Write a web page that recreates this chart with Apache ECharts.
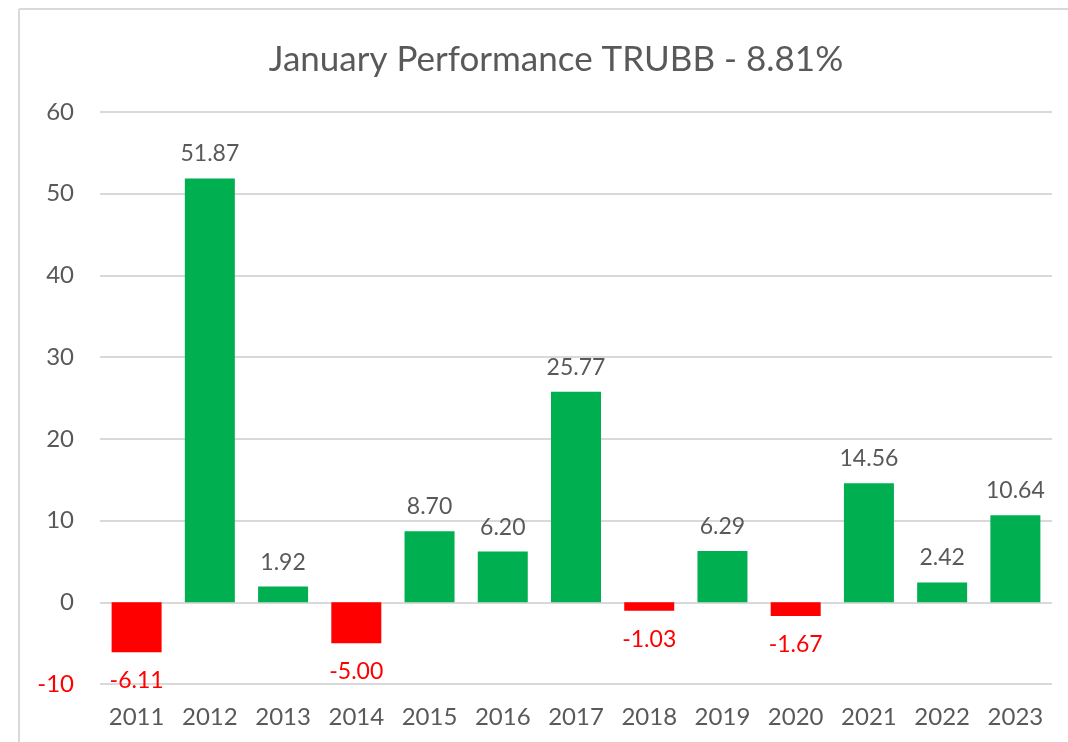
<!DOCTYPE html>
<html><head><meta charset="utf-8">
<script src="https://cdn.jsdelivr.net/npm/echarts@6/dist/echarts.min.js"></script>
<style>html,body{margin:0;padding:0;background:#fff}#c{width:1068px;height:742px}</style>
</head><body><div id="c"></div>
<script>
const titleText = "January Performance TRUBB - 8.81%";
const years = ["2011","2012","2013","2014","2015","2016","2017","2018","2019","2020","2021","2022","2023"];
const values = [-6.11, 51.87, 1.92, -5.00, 8.70, 6.20, 25.77, -1.03, 6.29, -1.67, 14.56, 2.42, 10.64];
const yMin = -10, yMax = 60, yStep = 10;

const GREEN = "#00B050", RED = "#FF0000", TXT = "#595959", GRID = "#D9D9D9";
const FONT = "Lato, 'Open Sans', sans-serif";

const chart = echarts.init(document.getElementById('c'), null, {renderer: 'canvas'});
chart.setOption({
  animation: false,
  backgroundColor: '#fff',
  title: {
    text: titleText, left: 551, textAlign: 'center', top: 37,
    textStyle: {fontFamily: FONT, fontSize: 35, fontWeight: 'normal', color: TXT}
  },
  graphic: [
    {type: 'line', shape: {x1: 19, y1: 9, x2: 19, y2: 742}, style: {stroke: GRID, lineWidth: 2}},
    {type: 'line', shape: {x1: 19, y1: 9, x2: 1068, y2: 9}, style: {stroke: GRID, lineWidth: 2}}
  ],
  grid: {left: 100, right: 16, top: 112, bottom: 58, containLabel: false},
  xAxis: {
    type: 'category', data: years,
    axisLine: {show: false, onZero: false},
    axisTick: {show: false},
    axisLabel: {fontFamily: FONT, fontSize: 24, color: TXT, margin: 21}
  },
  yAxis: {
    type: 'value', min: yMin, max: yMax, interval: yStep,
    axisLine: {show: false}, axisTick: {show: false},
    splitLine: {lineStyle: {color: GRID, width: 2}},
    axisLabel: {
      fontFamily: FONT, fontSize: 24, margin: 26,
      color: v => (v < 0 ? RED : TXT)
    }
  },
  series: [{
    type: 'bar',
    barWidth: 50,
    data: values.map(v => ({
      value: v,
      itemStyle: {color: v < 0 ? RED : GREEN},
      label: {
        show: true,
        position: v < 0 ? 'bottom' : 'top',
        distance: v < 0 ? 17 : 13,
        color: v < 0 ? RED : TXT,
        fontFamily: FONT, fontSize: 23,
        formatter: p => p.value.toFixed(2)
      }
    }))
  }]
});
</script></body></html>
